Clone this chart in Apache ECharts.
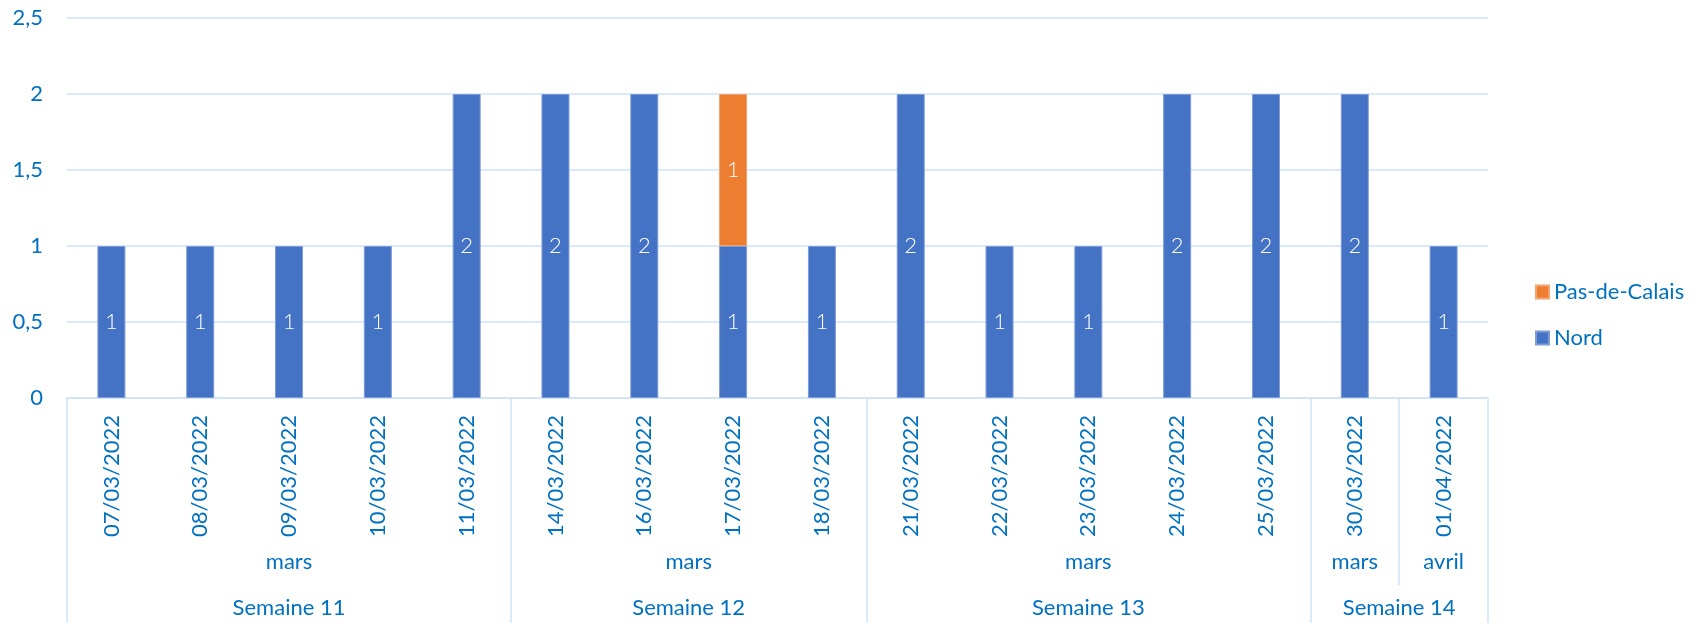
<!DOCTYPE html>
<html>
<head>
<meta charset="utf-8">
<script src="https://cdn.jsdelivr.net/npm/echarts@6/dist/echarts.min.js"></script>
<style>
  html, body { margin: 0; padding: 0; background: #fff; }
  #chart { width: 1691px; height: 623px; }
</style>
</head>
<body>
<div id="chart"></div>
<script>
// données
const dates = ['07/03/2022', '08/03/2022', '09/03/2022', '10/03/2022', '11/03/2022',
  '14/03/2022', '16/03/2022', '17/03/2022', '18/03/2022',
  '21/03/2022', '22/03/2022', '23/03/2022', '24/03/2022', '25/03/2022',
  '30/03/2022', '01/04/2022']
const nord = [1, 1, 1, 1, 2, 2, 2, 1, 1, 2, 1, 1, 2, 2, 2, 1]
const pasDeCalais = [null, null, null, null, null, null, null, 1, null, null, null, null, null, null, null, null]
const months = [['mars', 5], ['mars', 4], ['mars', 5], ['mars', 1], ['avril', 1]]
const weeks = [['Semaine 11', 5], ['Semaine 12', 4], ['Semaine 13', 5], ['Semaine 14', 2]]
const yTicks = [0, 0.5, 1, 1.5, 2, 2.5]

const textColor = '#0070C0'
const lineColor = '#CFE3F8'
const font = 'Lato'
const fontSize = 22

// axe auxiliaire : points tous les demi-catégories (0..N), label au centre de chaque groupe
const buildLevel = (groups) => {
  const n = dates.length * 2 + 1
  const labels = new Array(n).fill('')
  const bounds = [0]
  let pos = 0
  groups.forEach(([name, span]) => {
    labels[pos * 2 + span] = name
    pos += span
    bounds.push(pos * 2)
  })
  return { labels, bounds }
}
const monthLevel = buildLevel(months)
const weekLevel = buildLevel(weeks)

const helperAxis = (level, tickLen, labelMargin) => ({
  type: 'category',
  position: 'bottom',
  offset: 0,
  boundaryGap: false,
  data: level.labels,
  axisLine: { show: false },
  axisTick: {
    show: true,
    inside: false,
    length: tickLen,
    interval: (idx) => level.bounds.includes(idx),
    lineStyle: { color: lineColor, width: 1.5 }
  },
  axisLabel: {
    interval: 0,
    margin: labelMargin,
    color: textColor,
    fontSize: fontSize,
    fontFamily: font
  },
  splitLine: { show: false }
})

const chart = echarts.init(document.getElementById('chart'))
chart.setOption({
  animation: false,
  textStyle: { fontFamily: font },
  grid: { left: 67, right: 203, top: 18, bottom: 225, containLabel: false, outerBoundsMode: 'none' },
  legend: {
    orient: 'vertical',
    left: 1530,
    top: 276,
    data: ['Pas-de-Calais', 'Nord'],
    icon: 'rect',
    itemWidth: 13,
    itemHeight: 13,
    itemGap: 24,
    textStyle: { color: textColor, fontSize: fontSize, fontFamily: font }
  },
  xAxis: [
    {
      type: 'category',
      data: dates,
      axisLine: { show: true, lineStyle: { color: lineColor, width: 1.5 } },
      axisTick: { show: false },
      axisLabel: {
        rotate: 90,
        interval: 0,
        margin: 17,
        color: textColor,
        fontSize: fontSize,
        fontFamily: font
      }
    },
    helperAxis(monthLevel, 187, 153),
    helperAxis(weekLevel, 230, 199)
  ],
  yAxis: {
    type: 'value',
    min: yTicks[0],
    max: yTicks[yTicks.length - 1],
    interval: 0.5,
    axisLine: { show: false },
    axisTick: { show: false },
    splitLine: { lineStyle: { color: lineColor, width: 1.5 } },
    axisLabel: {
      margin: 24,
      color: textColor,
      fontSize: fontSize,
      fontFamily: font,
      formatter: (v) => String(v).replace('.', ',')
    }
  },
  series: [
    {
      name: 'Nord',
      type: 'bar',
      stack: 'total',
      barWidth: 28,
      data: nord,
      itemStyle: { color: '#4472C4', borderColor: '#7E9CD6', borderWidth: 1 },
      label: { show: true, position: 'inside', color: '#fff', fontSize: fontSize, fontWeight: 300, fontFamily: font }
    },
    {
      name: 'Pas-de-Calais',
      type: 'bar',
      stack: 'total',
      barWidth: 28,
      data: pasDeCalais,
      itemStyle: { color: '#ED7D31', borderColor: '#F2A36E', borderWidth: 1 },
      label: { show: true, position: 'inside', color: '#fff', fontSize: fontSize, fontWeight: 300, fontFamily: font }
    }
  ]
})
</script>
</body>
</html>
